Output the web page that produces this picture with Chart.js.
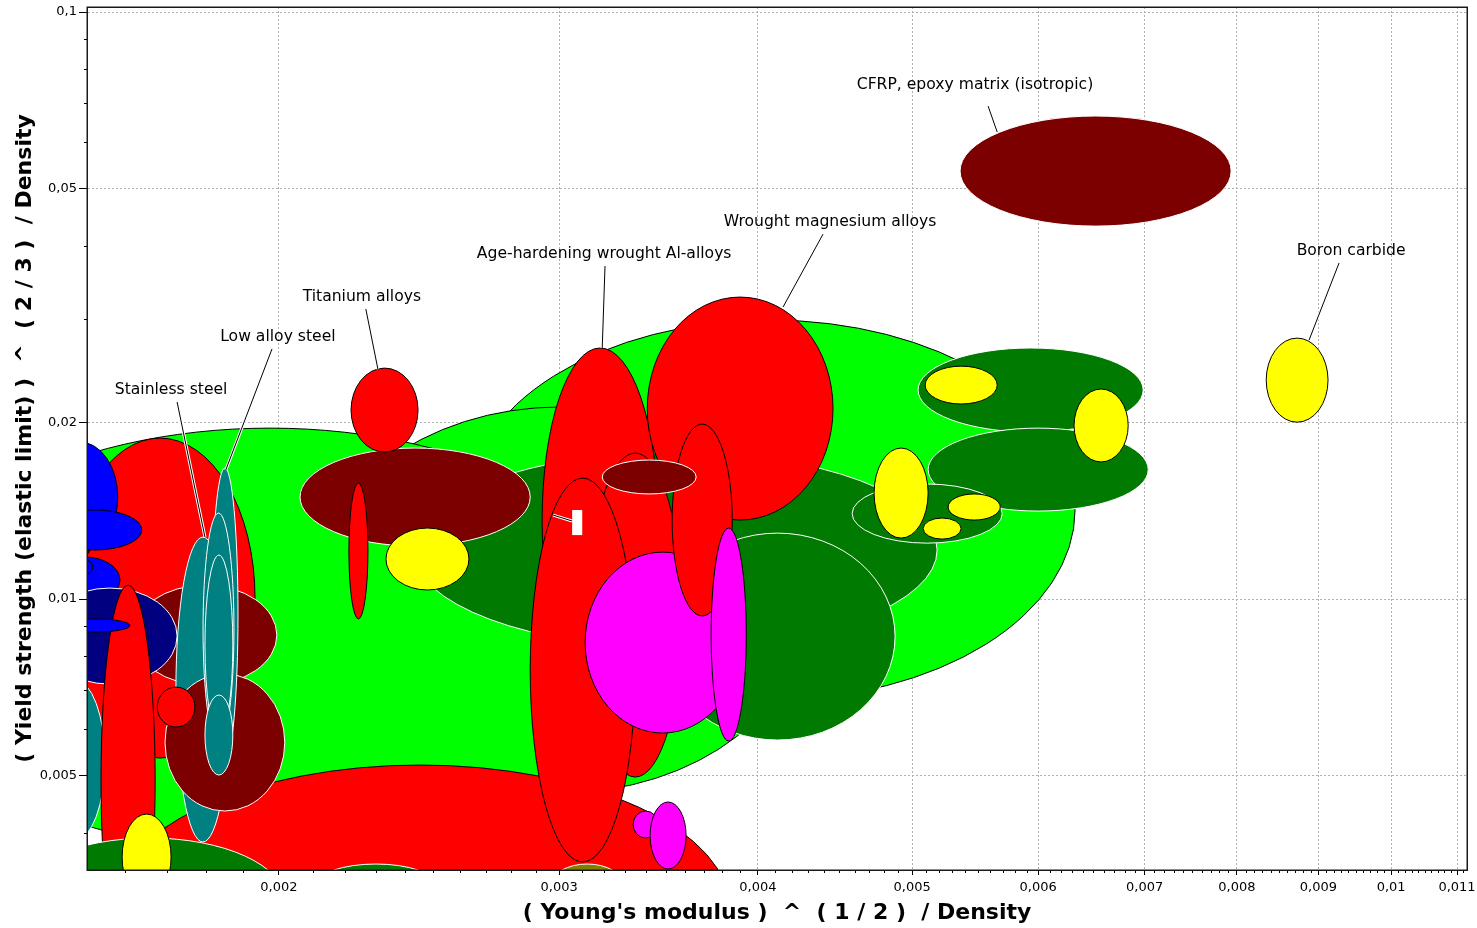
<!DOCTYPE html>
<html>
<head>
<meta charset="utf-8">
<script src="https://cdn.jsdelivr.net/npm/chart.js@4/dist/chart.umd.min.js"></script>
<style>
  html, body { margin: 0; padding: 0; background: #ffffff; }
  #wrap { width: 1477px; height: 928px; }
</style>
</head>
<body>
<div id="wrap"><canvas id="chart" width="1477" height="928"></canvas></div>
<script>
// Axis ranges: x = E^(1/2)/rho, y = sigma_y^(2/3)/rho (both logarithmic)
const xRange = [0.001515, 0.01116];
const yRange = [0.003454, 0.1020];

const xMajorTicks = [0.002, 0.003, 0.004, 0.005, 0.006, 0.007, 0.008, 0.009, 0.01, 0.011];
const xTickLabels = ['0,002', '0,003', '0,004', '0,005', '0,006', '0,007', '0,008', '0,009', '0,01', '0,011'];
const yMajorTicks = [0.005, 0.01, 0.02, 0.05, 0.1];
const yTickLabels = ['0,005', '0,01', '0,02', '0,05', '0,1'];
const yMinorTicks = [0.004, 0.006, 0.007, 0.008, 0.009, 0.03, 0.04, 0.06, 0.07, 0.08, 0.09];
// x minor ticks every 0.0001, majors excluded
const xMinorTicks = [];
for (let k = 16; k <= 111; k++) if (k % 10 !== 0) xMinorTicks.push(k / 10000);

// Material property envelopes, listed back to front
const groups = [
  'light alloy', 'light alloy', 'light alloy', 'metal', 'metal',
  'glass', 'glass', 'glass', 'glass', 'glass',
  'composite', 'stainless', 'oxide', 'metal', 'glass',
  'stainless', 'composite', 'stainless', 'stainless', 'stainless', 'stainless',
  'metal', 'mineral', 'mineral', 'stone', 'ceramic',
  'mineral', 'composite', 'metal', 'metal', 'ceramic', 'mineral',
  'metal', 'metal', 'metal', 'metal', 'carbide', 'metal', 'composite',
  'carbide', 'carbide', 'carbide',
  'mineral', 'mineral', 'mineral',
  'ceramic', 'ceramic', 'ceramic', 'ceramic', 'ceramic', 'ceramic', 'composite'
];
const xLow = [
  0.002618, 0.002092, 0.001139, 0.001566, 0.001468,
  0.001430, 0.001419, 0.001432, 0.001436, 0.001493,
  0.001619, 0.001426, 0.001421, 0.001546, 0.001457,
  0.001723, 0.001696, 0.001815, 0.001792, 0.001797, 0.001797,
  0.001677, 0.001365, 0.002110, 0.002966, 0.001594,
  0.002428, 0.002062, 0.002220, 0.002213, 0.002335, 0.003472,
  0.002927, 0.003408, 0.003129, 0.002877, 0.003115, 0.003533, 0.003193,
  0.003738, 0.003339, 0.003422,
  0.005043, 0.005117, 0.004584,
  0.005095, 0.006320, 0.004732, 0.005267, 0.005080, 0.008346, 0.005359
];
const xHigh = [
  0.006329, 0.004313, 0.003422, 0.003843, 0.001932,
  0.001528, 0.001584, 0.001640, 0.001589, 0.001528,
  0.001994, 0.001555, 0.001726, 0.001672, 0.001612,
  0.001863, 0.002017, 0.001885, 0.001874, 0.001871, 0.001871,
  0.001771, 0.002017, 0.002510, 0.003291, 0.001711,
  0.005184, 0.002877, 0.002446, 0.002275, 0.002633, 0.004878,
  0.003462, 0.004459, 0.003585, 0.003349, 0.003899, 0.003854, 0.003658,
  0.003933, 0.003462, 0.003605,
  0.006985, 0.007036, 0.005696,
  0.005655, 0.006835, 0.005117, 0.005680, 0.005367, 0.009127, 0.007933
];
const yLow = [
  0.006728, 0.004672, 0.003707, 0.001672, 0.005359,
  0.01142, 0.01202, 0.01212, 0.009844, 0.01103,
  0.007135, 0.003885, 0.007163, 0.002288, 0.008785,
  0.003855, 0.004353, 0.005317, 0.005640, 0.005865, 0.005013,
  0.006052, 0.002408, 0.002999, 0.002999, 0.003070,
  0.008252, 0.01231, 0.01780, 0.009247, 0.01036, 0.005751,
  0.006942, 0.01363, 0.004974, 0.003564, 0.005911, 0.009356, 0.01510,
  0.005729, 0.003916, 0.003467,
  0.01925, 0.01412, 0.01245,
  0.02149, 0.01712, 0.01270, 0.01363, 0.01265, 0.02001, 0.04318
];
const yHigh = [
  0.02987, 0.02124, 0.01955, 0.005214, 0.01880,
  0.01446, 0.01851, 0.01418, 0.01179, 0.01165,
  0.01056, 0.007278, 0.01044, 0.01056, 0.009247,
  0.01275, 0.007452, 0.01672, 0.01401, 0.01188, 0.006861,
  0.007079, 0.003916, 0.003536, 0.003536, 0.004302,
  0.01780, 0.01808, 0.02474, 0.01576, 0.01321, 0.01295,
  0.02677, 0.03269, 0.01773, 0.01607, 0.01202, 0.01986, 0.01725,
  0.01321, 0.004353, 0.004510,
  0.02677, 0.01955, 0.01570,
  0.02493, 0.02279, 0.01808, 0.01510, 0.01374, 0.02783, 0.06651
];

// Named families with leader lines
const labelTexts = ['CFRP, epoxy matrix (isotropic)', 'Boron carbide', 'Wrought magnesium alloys',
  'Age-hardening wrought Al-alloys', 'Titanium alloys', 'Low alloy steel', 'Stainless steel'];
const labelX = [0.005476, 0.009437, 0.004440, 0.003202, 0.002255, 0.001997, 0.001711];
const labelY = [0.07510, 0.03916, 0.04387, 0.03870, 0.03269, 0.02795, 0.02270];
const leaderX0 = [0.005581, 0.009274, 0.004395, 0.003206, 0.002268, 0.001980, 0.001726];
const leaderY0 = [0.06914, 0.03737, 0.04184, 0.03693, 0.03119, 0.02667, 0.02166];
const leaderX1 = [0.005655, 0.008880, 0.004148, 0.003193, 0.002308, 0.001852, 0.001797];
const leaderY1 = [0.06245, 0.02762, 0.03144, 0.02677, 0.02464, 0.01659, 0.01275];
// Empty tag box with its leader
const tagX = [0.003057, 0.003102];
const tagY = [0.01285, 0.01418];
const tagLeaderX = [0.002974, 0.003057];
const tagLeaderY = [0.01390, 0.01358];

const groupStyle = {
  'metal':       { fill: '#ff0000', stroke: '#000000' },
  'light alloy': { fill: '#00ff00', stroke: '#000000' },
  'ceramic':     { fill: '#ffff00', stroke: '#000000' },
  'mineral':     { fill: '#007a00', stroke: '#ffffff' },
  'composite':   { fill: '#7d0000', stroke: '#ffffff' },
  'stainless':   { fill: '#008080', stroke: '#ffffff' },
  'glass':       { fill: '#0000ff', stroke: '#000000' },
  'oxide':       { fill: '#000080', stroke: '#ffffff' },
  'carbide':     { fill: '#ff00ff', stroke: '#000000' },
  'stone':       { fill: '#7f7f00', stroke: '#ffffff' }
};

const FONT = 'DejaVu Sans';

const rangesPlugin = {
  id: 'propertyRanges',
  beforeDatasetsDraw(chart) {
    const { ctx, chartArea: a, scales } = chart;
    const sx = scales.x, sy = scales.y;
    ctx.save();
    ctx.beginPath();
    ctx.rect(a.left, a.top, a.right - a.left, a.bottom - a.top);
    ctx.clip();
    for (let i = 0; i < groups.length; i++) {
      const x0 = sx.getPixelForValue(xLow[i]), x1 = sx.getPixelForValue(xHigh[i]);
      const y0 = sy.getPixelForValue(yLow[i]), y1 = sy.getPixelForValue(yHigh[i]);
      const st = groupStyle[groups[i]];
      ctx.beginPath();
      ctx.ellipse((x0 + x1) / 2, (y0 + y1) / 2, Math.abs(x1 - x0) / 2, Math.abs(y1 - y0) / 2, 0, 0, Math.PI * 2);
      ctx.fillStyle = st.fill;
      ctx.fill();
      ctx.lineWidth = 1;
      ctx.strokeStyle = st.stroke;
      ctx.stroke();
    }
    const leader = (ax, ay, bx, by) => {
      ctx.lineCap = 'butt';
      ctx.beginPath(); ctx.moveTo(ax, ay); ctx.lineTo(bx, by);
      ctx.lineWidth = 3; ctx.strokeStyle = '#ffffff'; ctx.stroke();
      ctx.beginPath(); ctx.moveTo(ax, ay); ctx.lineTo(bx, by);
      ctx.lineWidth = 1; ctx.strokeStyle = '#000000'; ctx.stroke();
    };
    // empty tag
    leader(sx.getPixelForValue(tagLeaderX[0]), sy.getPixelForValue(tagLeaderY[0]),
           sx.getPixelForValue(tagLeaderX[1]), sy.getPixelForValue(tagLeaderY[1]));
    const tx0 = sx.getPixelForValue(tagX[0]), tx1 = sx.getPixelForValue(tagX[1]);
    const ty0 = sy.getPixelForValue(tagY[0]), ty1 = sy.getPixelForValue(tagY[1]);
    ctx.fillStyle = '#ffffff';
    ctx.fillRect(Math.min(tx0, tx1), Math.min(ty0, ty1), Math.abs(tx1 - tx0), Math.abs(ty1 - ty0));
    // named labels
    for (let i = 0; i < labelTexts.length; i++) {
      leader(sx.getPixelForValue(leaderX0[i]), sy.getPixelForValue(leaderY0[i]),
             sx.getPixelForValue(leaderX1[i]), sy.getPixelForValue(leaderY1[i]));
      ctx.font = '15.6px "' + FONT + '"';
      ctx.fillStyle = '#000000';
      ctx.textAlign = 'center';
      ctx.textBaseline = 'middle';
      ctx.fillText(labelTexts[i], sx.getPixelForValue(labelX[i]), sy.getPixelForValue(labelY[i]));
    }
    ctx.restore();
  },
  afterDraw(chart) {
    const { ctx, chartArea: a, scales } = chart;
    const sx = scales.x, sy = scales.y;
    ctx.save();
    ctx.strokeStyle = '#000000';
    ctx.lineWidth = 1;
    // minor tick marks
    ctx.beginPath();
    xMinorTicks.forEach(v => {
      const p = Math.round(sx.getPixelForValue(v)) + 0.5;
      ctx.moveTo(p, a.bottom); ctx.lineTo(p, a.bottom + 3);
    });
    yMinorTicks.forEach(v => {
      const p = Math.round(sy.getPixelForValue(v)) + 0.5;
      ctx.moveTo(a.left - 3, p); ctx.lineTo(a.left, p);
    });
    ctx.stroke();
    // plot frame
    ctx.strokeStyle = '#1a1a1a';
    ctx.lineWidth = 1.5;
    ctx.strokeRect(Math.round(a.left) + 0.25, Math.round(a.top) + 0.25, Math.round(a.right - a.left), Math.round(a.bottom - a.top));
    ctx.restore();
  }
};

const tickFont = { family: FONT, size: 13 };
const titleFont = { family: FONT, size: 22, weight: 'bold' };

new Chart(document.getElementById('chart'), {
  type: 'scatter',
  data: { datasets: [{ data: [], pointRadius: 0 }] },
  plugins: [rangesPlugin],
  options: {
    responsive: false,
    animation: false,
    events: [],
    layout: { padding: { top: 7, right: 10, left: 0, bottom: 0 } },
    plugins: { legend: { display: false }, tooltip: { enabled: false } },
    scales: {
      x: {
        type: 'logarithmic',
        position: 'bottom',
        bounds: 'data',
        min: xRange[0],
        max: xRange[1],
        afterBuildTicks: s => { s.ticks = xMajorTicks.map(v => ({ value: v })); },
        afterFit: s => { s.height = 58; s.paddingLeft = 0; s.paddingRight = 0; },
        ticks: {
          autoSkip: false, maxRotation: 0, minRotation: 0, padding: 5,
          color: '#000000', font: tickFont,
          callback: (v, i) => xTickLabels[i]
        },
        grid: { color: '#b0b0b0', lineWidth: 1, tickColor: '#000000', tickLength: 5, drawTicks: true },
        border: { display: true, color: '#000000', width: 1, dash: [2, 2] },
        title: {
          display: true,
          text: "( Young's modulus )  ^  ( 1 / 2 )  / Density",
          font: titleFont, color: '#000000',
          padding: { top: 0, bottom: 2 }
        }
      },
      y: {
        type: 'logarithmic',
        position: 'left',
        bounds: 'data',
        min: yRange[0],
        max: yRange[1],
        afterBuildTicks: s => { s.ticks = yMajorTicks.map(v => ({ value: v })); },
        afterFit: s => { s.width = 87; s.paddingTop = 0; s.paddingBottom = 0; },
        ticks: {
          autoSkip: false, padding: 2,
          color: '#000000', font: tickFont,
          callback: (v, i) => yTickLabels[i]
        },
        grid: { color: '#b0b0b0', lineWidth: 1, tickColor: '#000000', tickLength: 8, drawTicks: true },
        border: { display: true, color: '#000000', width: 1, dash: [2, 2] },
        title: {
          display: true,
          text: '( Yield strength (elastic limit) )  ^  ( 2 / 3 )  / Density',
          font: titleFont, color: '#000000',
          padding: { top: 12, bottom: 0 }
        }
      }
    }
  }
});
</script>
</body>
</html>
